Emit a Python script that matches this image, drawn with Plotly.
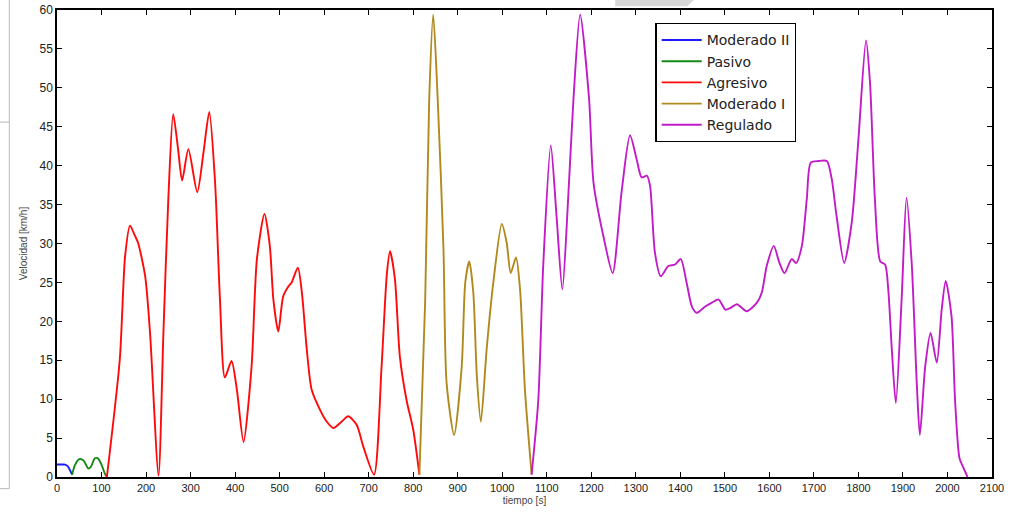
import plotly.graph_objects as go

# --- data (tiempo [s], velocidad [km/h]) ---
mod2_t = [0, 10, 18, 24, 29, 34]
mod2_v = [1.6, 1.6, 1.6, 1.4, 0.9, 0.3]

pas_t = [34, 40, 50, 60, 70, 76, 85, 92, 100, 107, 112]
pas_v = [0.3, 1.5, 2.3, 2.1, 1.1, 1.3, 2.4, 2.4, 1.6, 0.5, 0.0]

agr_t = [112, 141, 153, 164, 175, 182, 198, 209, 228, 239, 250, 261, 272, 281, 295,
         315, 329, 342, 355, 366, 377, 392, 404, 419, 437, 449, 466, 478, 486, 497,
         508, 520, 527, 541, 550, 561, 572, 591, 606, 621, 639, 654, 673, 688, 712,
         729, 741, 748, 759, 770, 785, 800, 814]
agr_v = [0.0, 15.1, 28.4, 32.3, 31.0, 30.1, 25.8, 18.5, 0.2, 18.5, 35.7, 46.6, 42.1, 38.1, 42.1,
         36.6, 41.7, 46.9, 37.9, 22.8, 12.8, 14.9, 11.2, 4.5, 14.2, 28.0, 33.8, 29.7, 22.8, 18.7,
         23.2, 24.5, 25.0, 26.9, 23.7, 16.4, 11.2, 8.6, 7.1, 6.3, 7.1, 7.8, 6.7, 3.9, 0.3,
         14.2, 26.2, 29.0, 25.4, 15.5, 9.9, 6.1, 0.3]

mod1_t = [814, 827, 836, 845, 855, 868, 875, 892, 909, 917, 926, 935, 943, 952, 965,
          980, 999, 1010, 1019, 1031, 1040, 1051, 1066]
mod1_v = [0.3, 22.8, 48.6, 59.4, 48.6, 29.3, 12.1, 5.4, 14.2, 25.0, 27.7, 23.7, 12.9, 7.1, 16.4,
          25.0, 32.5, 30.1, 26.2, 28.2, 24.1, 11.2, 0.3]

reg_t = [1066, 1081, 1092, 1109, 1122, 1135, 1148, 1160, 1175, 1195, 1205, 1227, 1248, 1268,
         1287, 1302, 1313, 1325, 1332, 1343, 1356, 1373, 1388, 1401, 1414, 1426, 1437, 1456,
         1471, 1486, 1501, 1512, 1527, 1549, 1572, 1583, 1594, 1610, 1622, 1634, 1650, 1660,
         1673, 1684, 1693, 1710, 1729, 1740, 1751, 1768, 1785, 1800, 1817, 1826, 1837, 1849,
         1860, 1867, 1875, 1884, 1897, 1908, 1920, 1931, 1938, 1950, 1962, 1976, 1987, 1996,
         2009, 2017, 2027, 2035, 2045]
reg_v = [0.3, 9.9, 27.1, 42.6, 33.5, 24.1, 35.7, 48.6, 59.4, 48.6, 37.8, 31.0, 26.2, 36.6,
         43.9, 40.8, 38.5, 38.7, 37.4, 28.8, 25.8, 27.1, 27.3, 28.0, 25.0, 21.9, 21.1, 21.9,
         22.4, 22.8, 21.5, 21.7, 22.2, 21.3, 22.4, 23.7, 27.1, 29.7, 27.6, 26.2, 28.0, 27.5,
         29.7, 35.7, 40.4, 40.6, 40.6, 38.3, 33.5, 27.5, 32.7, 43.4, 56.1, 50.7, 35.7, 27.7,
         27.3, 24.1, 16.4, 9.5, 22.8, 35.9, 27.1, 12.1, 5.4, 14.2, 18.5, 14.7, 21.5, 25.2,
         20.7, 9.9, 2.4, 1.3, 0.0]

series = [
    ("Moderado II", mod2_t, mod2_v, "#1a1aff"),
    ("Pasivo", pas_t, pas_v, "#138a13"),
    ("Agresivo", agr_t, agr_v, "#ff0a0a"),
    ("Moderado I", mod1_t, mod1_v, "#b08a1e"),
    ("Regulado", reg_t, reg_v, "#c21bc8"),
]

x_ticks = list(range(0, 2101, 100))
y_ticks = list(range(0, 61, 5))

fig = go.Figure()
for name, t, v, c in series:
    fig.add_trace(go.Scatter(x=t, y=v, mode="lines", name=name,
                             line=dict(color=c, width=1.9, shape="spline", smoothing=0.7)))

axis_common = dict(showline=True, linecolor="black", linewidth=1.5, mirror="ticks",
                   ticks="inside", ticklen=5, tickwidth=1.2, tickcolor="black",
                   showgrid=False, zeroline=False, automargin=False)

fig.update_layout(
    width=1010, height=514,
    margin=dict(l=57, r=18, t=10, b=37),
    paper_bgcolor="white", plot_bgcolor="white",
    xaxis=dict(range=[0, 2100], tickvals=x_ticks, **axis_common,
               tickfont=dict(family="Liberation Sans, Arial", size=11, color="#222"),
               title=dict(text="tiempo [s]", standoff=4,
                          font=dict(family="Liberation Sans, Arial", size=10, color="#444"))),
    yaxis=dict(range=[0, 60], tickvals=y_ticks, **axis_common,
               tickfont=dict(family="Liberation Sans, Arial", size=12, color="#222"),
               title=dict(text="Velocidad [km/h]", standoff=10,
                          font=dict(family="Liberation Sans, Arial", size=10, color="#444"))),
    legend=dict(x=0.64, y=0.972, xanchor="left", yanchor="top",
                bgcolor="white", bordercolor="black", borderwidth=1.3,
                font=dict(family="DejaVu Sans", size=14, color="#222"),
                tracegroupgap=0, itemwidth=40),
    showlegend=True,
    shapes=[
        # faint decorations of the original screenshot
        dict(type="path", xref="paper", yref="paper",
             path="M 0.597 1.025 L 0.683 1.025 L 0.674 1.008 L 0.597 1.008 Z",
             fillcolor="#d8d8d8", line=dict(width=0), layer="below"),
        dict(type="line", xref="paper", yref="paper", x0=-0.051, x1=-0.051, y0=1.03, y1=-0.025,
             line=dict(color="#bbbbbb", width=1)),
        dict(type="line", xref="paper", yref="paper", x0=-0.062, x1=-0.051, y0=-0.025, y1=-0.025,
             line=dict(color="#bbbbbb", width=1)),
        dict(type="line", xref="paper", yref="paper", x0=-0.062, x1=-0.051, y0=0.76, y1=0.76,
             line=dict(color="#bbbbbb", width=1)),
    ],
)

fig.write_html("out.html", config={"displayModeBar": False},
               post_script="document.body.style.margin='0';")
